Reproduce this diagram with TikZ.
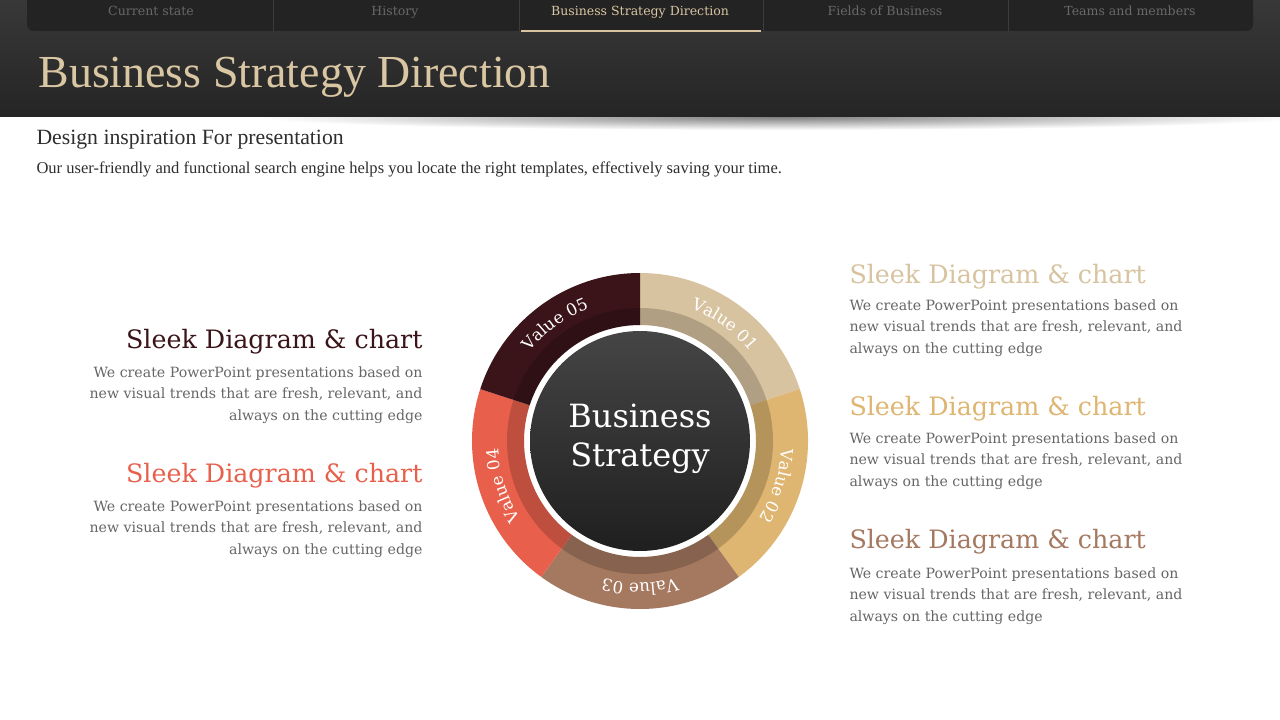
\documentclass[tikz,border=0pt]{standalone}
\usepackage{fontspec}
\setmainfont{DejaVu Serif}
\newfontfamily\narrowfont{Liberation Serif}
\usetikzlibrary{decorations.text}

\definecolor{valA}{HTML}{D8C3A0}
\definecolor{valB}{HTML}{DEB571}
\definecolor{valC}{HTML}{A57860}
\definecolor{valD}{HTML}{E8604C}
\definecolor{valE}{HTML}{3A1419}
\definecolor{headtop}{HTML}{383838}
\definecolor{headmid}{HTML}{3D3D3D}
\definecolor{headbot}{HTML}{252525}
\definecolor{tabbar}{HTML}{232323}
\definecolor{tabsep}{HTML}{3C3C3C}
\definecolor{tabgray}{HTML}{686868}
\definecolor{titletan}{HTML}{D9C6A2}
\definecolor{bodygray}{HTML}{666666}
\definecolor{subgray}{HTML}{2E2E2E}
\definecolor{coretop}{HTML}{454545}
\definecolor{corebot}{HTML}{1F1F1F}

\tikzset{every picture/.style={line width=0.75pt}}
\tikzset{
  tabtext/.style={font=\fontsize{9.4}{11}\selectfont, text=tabgray, anchor=base},
  headtext/.style={font=\fontsize{19}{22}\selectfont, inner sep=0},
  bodytext/.style={font=\fontsize{10.6}{16}\selectfont, text=bodygray, inner sep=0},
  ringlabel/.style={decorate, decoration={text along path, text align=center,
      text color=white, text={|\fontsize{12.5}{12.5}\selectfont|#1}}},
}

\begin{document}
\begin{tikzpicture}[x=0.75pt,y=0.75pt,yscale=-1]
	\useasboundingbox (0,0) rectangle (1280,720);
	\fill[white] (0,0) rectangle (1280,720);

	% Header shadow
	\shade[inner color=black!50, outer color=white] (780,117) ellipse [x radius=520, y radius=13];
	% Header
	\shade[top color=headtop, middle color=headmid, bottom color=headbot] (0,0) rectangle (1280,117);
	\fill[tabbar, rounded corners=5] (27,-8) rectangle (1253,31);
	\foreach \x in {273,519,763,1008}
		\draw[tabsep] (\x,0) -- (\x,31);
	\draw[valA, line width=1pt] (521,31) -- (761,31);

	% Text Node
	\node[tabtext] (tab1) at (151,16) {Current state};
	% Text Node
	\node[tabtext] (tab2) at (395,16) {History};
	% Text Node
	\node[tabtext, text=titletan] (tab3) at (640,16) {Business Strategy Direction};
	% Text Node
	\node[tabtext] (tab4) at (885,16) {Fields of Business};
	% Text Node
	\node[tabtext] (tab5) at (1130,16) {Teams and members};

	% Text Node
	\node[anchor=base west, inner sep=0, text=titletan, font=\narrowfont\fontsize{34.4}{38}\selectfont] (title) at (38,88) {Business Strategy Direction};
	% Text Node
	\node[anchor=base west, inner sep=0, text=subgray, font=\narrowfont\fontsize{16.3}{18}\selectfont] (subhead) at (36,145) {Design inspiration For presentation};
	% Text Node
	\node[anchor=base west, inner sep=0, text=subgray, font=\narrowfont\fontsize{12.4}{15}\selectfont] (subline) at (36,174) {Our user-friendly and functional search engine helps you locate the right templates, effectively saving your time.};

	% Ring
	\begin{scope}[shift={(640,441)},yscale=-1]
		\foreach \a/\col/\lab in {90/valA/Value 01, 18/valB/Value 02, -54/valC/Value 03, -126/valD/Value 04, 162/valE/Value 05}{
			\fill[\col] (\a:168) arc[start angle=\a, end angle=\a-72, radius=168] -- ({\a-72}:116) arc[start angle=\a-72, end angle=\a, radius=116] -- cycle;
			\path[ringlabel/.expanded=\lab] ({\a-4}:142) arc[start angle=\a-4, end angle=\a-68, radius=142];
		}
		\fill[black, opacity=.18, even odd rule] (0,0) circle (133) (0,0) circle (116);
		\shade[top color=coretop, bottom color=corebot] (0,0) circle (110);
		% Text Node
		\node[text=white, align=center, font=\fontsize{24}{29}\selectfont] (core) at (0,2) {Business\\Strategy};
	\end{scope}

	% Left blocks (base = last line)
	\node[headtext, anchor=base east, text=valE] (headL1) at (423,348) {Sleek Diagram \& chart};
	\node[bodytext, anchor=base east, align=right] (bodyL1) at (423,420) {We create PowerPoint presentations based on\\new visual trends that are fresh, relevant, and\\always on the cutting edge};
	\node[headtext, anchor=base east, text=valD] (headL2) at (423,482) {Sleek Diagram \& chart};
	\node[bodytext, anchor=base east, align=right] (bodyL2) at (423,554) {We create PowerPoint presentations based on\\new visual trends that are fresh, relevant, and\\always on the cutting edge};

	% Right blocks
	\node[headtext, anchor=base west, text=valA] (headR1) at (849,283) {Sleek Diagram \& chart};
	\node[bodytext, anchor=base west, align=left] (bodyR1) at (849,353) {We create PowerPoint presentations based on\\new visual trends that are fresh, relevant, and\\always on the cutting edge};
	\node[headtext, anchor=base west, text=valB] (headR2) at (849,415) {Sleek Diagram \& chart};
	\node[bodytext, anchor=base west, align=left] (bodyR2) at (849,486) {We create PowerPoint presentations based on\\new visual trends that are fresh, relevant, and\\always on the cutting edge};
	\node[headtext, anchor=base west, text=valC] (headR3) at (849,548) {Sleek Diagram \& chart};
	\node[bodytext, anchor=base west, align=left] (bodyR3) at (849,621) {We create PowerPoint presentations based on\\new visual trends that are fresh, relevant, and\\always on the cutting edge};
\end{tikzpicture}
\end{document}
